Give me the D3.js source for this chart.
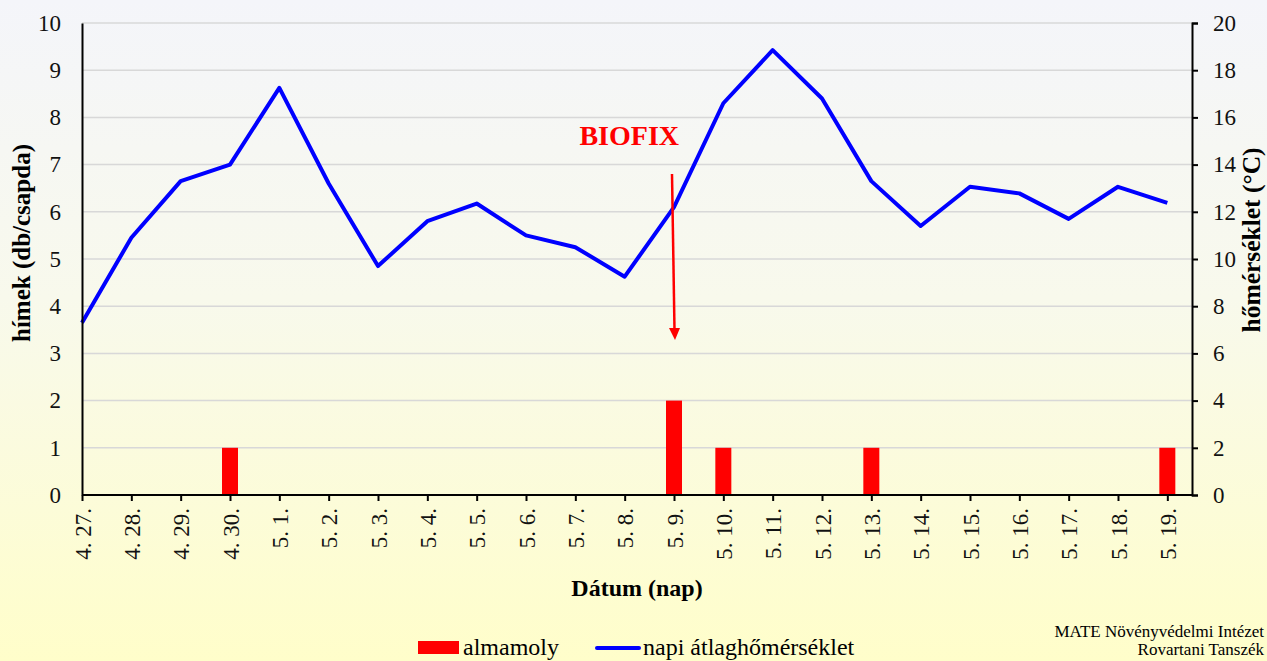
<!DOCTYPE html>
<html>
<head>
<meta charset="utf-8">
<script src="https://cdn.jsdelivr.net/npm/d3@7"></script>
<style>
  body { margin: 0; padding: 0; overflow: hidden; }
  svg { display: block; font-family: "Liberation Serif", "Times New Roman", serif; }
</style>
</head>
<body>
<div class="chart"></div>
<script>
// dates on the x axis
var dates = ['4. 27.', '4. 28.', '4. 29.', '4. 30.', '5. 1.', '5. 2.', '5. 3.', '5. 4.', '5. 5.', '5. 6.',
  '5. 7.', '5. 8.', '5. 9.', '5. 10.', '5. 11.', '5. 12.', '5. 13.', '5. 14.', '5. 15.', '5. 16.',
  '5. 17.', '5. 18.', '5. 19.'];
// almamoly catch (db/csapda)
var catches = [0, 0, 0, 1, 0, 0, 0, 0, 0, 0, 0, 0, 2, 1, 0, 0, 1, 0, 0, 0, 0, 0, 1];
// daily mean temperature (°C)
var temps = [7.3, 10.9, 13.3, 14.0, 17.25, 13.2, 9.7, 11.6, 12.35, 11.0, 10.5, 9.25, 12.2, 16.6, 18.85,
  16.8, 13.3, 11.4, 13.06, 12.78, 11.7, 13.06, 12.38];
var leftTicks = [0, 1, 2, 3, 4, 5, 6, 7, 8, 9, 10];
var rightTicks = [0, 2, 4, 6, 8, 10, 12, 14, 16, 18, 20];
var biofixDate = '5. 9.';

var margin = { top: 23, right: 75, bottom: 166, left: 82 };
var W = 1267, H = 661;
var width = W - margin.left - margin.right;   // 1110
var height = H - margin.top - margin.bottom;  // 472

var svg = d3.select('.chart')
  .append('svg')
    .attr('width', W)
    .attr('height', H);

// background gradient
var grad = svg.append('defs').append('linearGradient')
  .attr('id', 'bg')
  .attr('x1', 0).attr('y1', 0).attr('x2', 0).attr('y2', 1);
grad.append('stop').attr('offset', '0%').attr('stop-color', '#f4f5fa');
grad.append('stop').attr('offset', '45%').attr('stop-color', '#f8f9ec');
grad.append('stop').attr('offset', '100%').attr('stop-color', '#fffeca');
svg.append('rect').attr('width', W).attr('height', H).attr('fill', 'url(#bg)');

var g = svg.append('g')
  .attr('transform', 'translate(' + margin.left + ', ' + margin.top + ')');

// points sit on the ticks, half a step of room on the right
var step = width / (dates.length - 0.5);
var xScale = d3.scalePoint()
  .domain(dates)
  .range([0, step * (dates.length - 1)]);

var yLeft = d3.scaleLinear().domain([0, 10]).range([height, 0]);
var yRight = d3.scaleLinear().domain([0, 20]).range([height, 0]);

// gridlines
g.selectAll('.grid')
  .data(leftTicks.slice(1))
  .enter()
  .append('line')
    .attr('x1', 0).attr('x2', width)
    .attr('y1', d => yLeft(d)).attr('y2', d => yLeft(d))
    .attr('stroke', '#d8d8d8')
    .attr('stroke-width', 1.5);

// bars
var barW = 16;
g.selectAll('.bar')
  .data(dates.map((d, i) => ({ date: d, v: catches[i] })).filter(d => d.v > 0))
  .enter()
  .append('rect')
    .attr('x', d => xScale(d.date) - barW / 2)
    .attr('y', d => yLeft(d.v))
    .attr('width', barW)
    .attr('height', d => height - yLeft(d.v))
    .attr('fill', '#ff0000');

// temperature line
var line = d3.line()
  .x((d, i) => xScale(dates[i]))
  .y(d => yRight(d));
g.append('path')
  .datum(temps)
  .attr('d', line)
  .attr('fill', 'none')
  .attr('stroke', '#0000ff')
  .attr('stroke-width', 4)
  .attr('stroke-linejoin', 'round');

// left axis (no tick marks)
var leftAxis = g.append('g')
  .call(d3.axisLeft(yLeft).tickValues(leftTicks).tickSize(0).tickPadding(21));
leftAxis.select('.domain').attr('stroke', '#000').attr('stroke-width', 2);

// right axis
var rightAxis = g.append('g')
  .attr('transform', `translate(${width}, 0)`)
  .call(d3.axisRight(yRight).tickValues(rightTicks).tickSize(6).tickPadding(15).tickSizeOuter(6));
rightAxis.select('.domain').attr('stroke', '#000').attr('stroke-width', 2);
rightAxis.selectAll('.tick line').attr('stroke', '#000').attr('stroke-width', 2);

// x axis
var xAxis = g.append('g')
  .attr('transform', `translate(0, ${height})`)
  .call(d3.axisBottom(xScale).tickSize(6).tickSizeOuter(0));
xAxis.select('.domain').attr('d', 'M0,0H' + width).attr('stroke', '#000').attr('stroke-width', 2);
xAxis.selectAll('.tick line').attr('stroke', '#000').attr('stroke-width', 2);
xAxis.selectAll('.tick text')
  .attr('transform', 'rotate(-90)')
  .attr('x', -13)
  .attr('y', 0)
  .attr('dy', '0.35em')
  .attr('text-anchor', 'end');

svg.selectAll('.tick text')
  .attr('font-family', '"Liberation Serif", "Times New Roman", serif')
  .attr('font-size', 23)
  .attr('fill', '#111');

// axis titles
svg.append('text')
  .attr('transform', 'translate(30, 243) rotate(-90)')
  .attr('text-anchor', 'middle')
  .attr('font-size', 25).attr('font-weight', 'bold')
  .text('hímek (db/csapda)');

svg.append('text')
  .attr('transform', 'translate(1260, 240) rotate(-90)')
  .attr('text-anchor', 'middle')
  .attr('font-size', 25.5).attr('font-weight', 'bold')
  .text('hőmérséklet (°C)');

svg.append('text')
  .attr('x', 637).attr('y', 596)
  .attr('text-anchor', 'middle')
  .attr('font-size', 24).attr('font-weight', 'bold')
  .text('Dátum (nap)');

// BIOFIX annotation
var bx = margin.left + xScale(biofixDate);
svg.append('text')
  .attr('x', bx + 5).attr('y', 145)
  .attr('text-anchor', 'end')
  .attr('font-size', 28).attr('font-weight', 'bold')
  .attr('fill', '#ff0000')
  .text('BIOFIX');
svg.append('line')
  .attr('x1', bx - 2).attr('y1', 174)
  .attr('x2', bx + 0.5).attr('y2', 330)
  .attr('stroke', '#ff0000').attr('stroke-width', 2.5);
svg.append('path')
  .attr('d', `M${bx - 5},328L${bx + 6},328L${bx + 1},340Z`)
  .attr('fill', '#ff0000');

// legend
var leg = svg.append('g');
leg.append('rect')
  .attr('x', 418).attr('y', 641).attr('width', 41).attr('height', 13)
  .attr('fill', '#ff0000');
leg.append('text')
  .attr('x', 463).attr('y', 655)
  .attr('font-size', 24)
  .text('almamoly');
leg.append('line')
  .attr('x1', 597).attr('x2', 639).attr('y1', 648).attr('y2', 648)
  .attr('stroke', '#0000ff').attr('stroke-width', 4).attr('stroke-linecap', 'round');
leg.append('text')
  .attr('x', 643).attr('y', 655)
  .attr('font-size', 24)
  .text('napi átlaghőmérséklet');

// footer, pulled in so it fits inside the page
svg.append('text')
  .attr('x', 1264).attr('y', 637)
  .attr('text-anchor', 'end')
  .attr('font-size', 17)
  .text('MATE Növényvédelmi Intézet');
svg.append('text')
  .attr('x', 1264).attr('y', 655)
  .attr('text-anchor', 'end')
  .attr('font-size', 17)
  .text('Rovartani Tanszék');
</script>
</body>
</html>
